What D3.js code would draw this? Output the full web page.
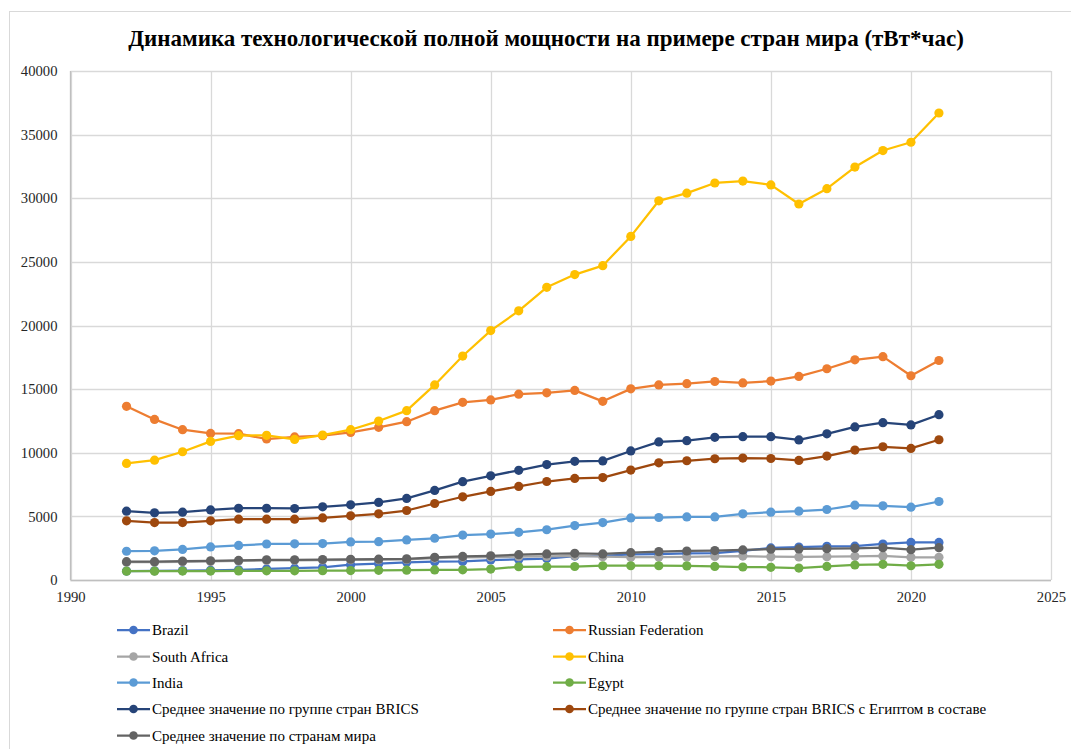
<!DOCTYPE html>
<html><head><meta charset="utf-8">
<script src="https://cdn.jsdelivr.net/npm/d3@7"></script>
<style>body{margin:0;background:#fff}svg{display:block}text{font-family:"Liberation Serif","Times New Roman",serif}</style>
</head><body><svg id="c" width="1071" height="749"></svg>
<script>
const years = [1992,1993,1994,1995,1996,1997,1998,1999,2000,2001,2002,2003,2004,2005,2006,2007,2008,2009,2010,2011,2012,2013,2014,2015,2016,2017,2018,2019,2020,2021];
const brazil = [700,720,740,760,800,870,930,1000,1200,1280,1390,1440,1460,1570,1620,1680,1880,1900,2020,2040,2100,2120,2280,2520,2590,2650,2660,2830,2950,2950];
const russia = [13650,12620,11810,11520,11500,11080,11240,11340,11600,12000,12440,13310,13960,14150,14600,14710,14900,14040,15020,15330,15430,15600,15490,15630,16000,16600,17300,17550,16050,17250];
const southAfrica = [1400,1400,1430,1460,1500,1540,1550,1570,1590,1600,1620,1720,1780,1800,1830,1850,1900,1830,1790,1800,1810,1850,1880,1830,1810,1830,1860,1890,1780,1780];
const china = [9160,9420,10080,10890,11340,11370,11050,11390,11810,12490,13310,15330,17600,19600,21150,23000,24000,24700,27000,29800,30400,31200,31350,31050,29550,30750,32450,33750,34400,36700];
const india = [2260,2290,2400,2600,2720,2830,2840,2860,2990,3010,3150,3280,3530,3610,3750,3950,4280,4510,4880,4910,4960,4960,5200,5330,5410,5540,5880,5830,5720,6170];
const egypt = [690,690,700,700,710,720,720,730,740,760,770,790,800,860,1040,1050,1060,1120,1120,1120,1110,1070,1020,1000,940,1070,1180,1230,1120,1230];
const brics = [5410,5280,5330,5510,5640,5640,5620,5750,5910,6100,6410,7040,7730,8190,8620,9070,9330,9360,10140,10850,10950,11210,11260,11260,11010,11490,12030,12360,12190,12990];
const bricsEgypt = [4650,4510,4510,4650,4780,4780,4780,4880,5040,5200,5460,6010,6540,6960,7350,7740,7980,8050,8640,9210,9370,9530,9580,9550,9400,9740,10210,10470,10340,11020];
const world = [1440,1440,1480,1510,1540,1590,1590,1610,1630,1640,1660,1780,1850,1900,1990,2050,2100,2050,2150,2230,2280,2310,2360,2420,2440,2460,2490,2540,2380,2540];
const xTicks = [1990,1995,2000,2005,2010,2015,2020,2025];
const yTicks = [0,5000,10000,15000,20000,25000,30000,35000,40000];
const seriesNames = ["Brazil","Russian Federation","South Africa","China","India","Egypt","Среднее значение по группе стран BRICS","Среднее значение по группе стран BRICS с Египтом в составе","Среднее значение по странам мира"];
const seriesValues = [brazil,russia,southAfrica,china,india,egypt,brics,bricsEgypt,world];
const colors = ["#4472C4","#ED7D31","#A5A5A5","#FFC000","#5B9BD5","#70AD47","#264478","#9E480E","#636363"];
const title = "Динамика технологической полной мощности на примере стран мира (тВт*час)";

const svg = d3.select("#c");
svg.append("rect").attr("x",9.5).attr("y",11.5).attr("width",1070).attr("height",745).attr("fill","#fff").attr("stroke","#d9d9d9");

const L=70.5, R=1051, T=71, B=580;
const x = d3.scaleLinear().domain([1990,2025]).range([L,R]);
const y = d3.scaleLinear().domain([0,40000]).range([B,T]);

const g = svg.append("g");
g.selectAll(".hg").data(yTicks).join("line").attr("x1",L).attr("x2",R)
 .attr("y1",d=>Math.round(y(d))+0.5).attr("y2",d=>Math.round(y(d))+0.5).attr("stroke","#d9d9d9").attr("stroke-width",1.3);
g.selectAll(".vg").data(xTicks).join("line").attr("y1",T).attr("y2",B)
 .attr("x1",d=>Math.round(x(d))+0.5).attr("x2",d=>Math.round(x(d))+0.5).attr("stroke","#d9d9d9").attr("stroke-width",1.3);
svg.append("line").attr("x1",L).attr("x2",L).attr("y1",T).attr("y2",B).attr("stroke","#bfbfbf").attr("stroke-width",1.3);
svg.append("line").attr("x1",L).attr("x2",R).attr("y1",B+0.5).attr("y2",B+0.5).attr("stroke","#bfbfbf").attr("stroke-width",1.3);

const yAxis = svg.append("g").attr("transform",`translate(${L},0)`)
  .call(d3.axisLeft(y).tickValues(yTicks).tickSize(0).tickPadding(13).tickFormat(d3.format("d")));
yAxis.select(".domain").remove();
yAxis.selectAll("text").attr("font-size","14.67px").attr("fill","#262626").attr("font-family","Liberation Serif");
const xAxis = svg.append("g").attr("transform",`translate(0,${B})`)
  .call(d3.axisBottom(x).tickValues(xTicks).tickSize(0).tickPadding(12).tickFormat(d3.format("d")));
xAxis.select(".domain").remove();
xAxis.selectAll("text").attr("font-size","14.67px").attr("fill","#262626").attr("font-family","Liberation Serif");

const line = d3.line().x((d,i)=>x(years[i])).y(d=>y(d));
seriesValues.forEach((vals,k)=>{
  const sg = svg.append("g");
  sg.append("path").attr("d",line(vals)).attr("fill","none").attr("stroke",colors[k]).attr("stroke-width",2.25).attr("stroke-linejoin","round");
  sg.selectAll("circle").data(vals).join("circle").attr("cx",(d,i)=>x(years[i])).attr("cy",d=>y(d)).attr("r",4.6).attr("fill",colors[k]);
});

svg.append("text").attr("x",546).attr("y",46).attr("text-anchor","middle").attr("font-size","23px").attr("font-weight","bold").attr("fill","#000").text(title);

const legPos = [[117,630],[553,630],[117,656.5],[553,656.5],[117,682.5],[553,682.5],[117,709],[553,709],[117,735.5]];
seriesNames.forEach((n,k)=>{
  const [lx,ly]=legPos[k];
  const lg = svg.append("g");
  lg.append("line").attr("x1",lx).attr("x2",lx+33).attr("y1",ly).attr("y2",ly).attr("stroke",colors[k]).attr("stroke-width",2.25);
  lg.append("circle").attr("cx",lx+16.5).attr("cy",ly).attr("r",4.3).attr("fill",colors[k]);
  lg.append("text").attr("x",lx+35).attr("y",ly+5).attr("font-size","15px").attr("fill","#000").text(n);
});
</script></body></html>
